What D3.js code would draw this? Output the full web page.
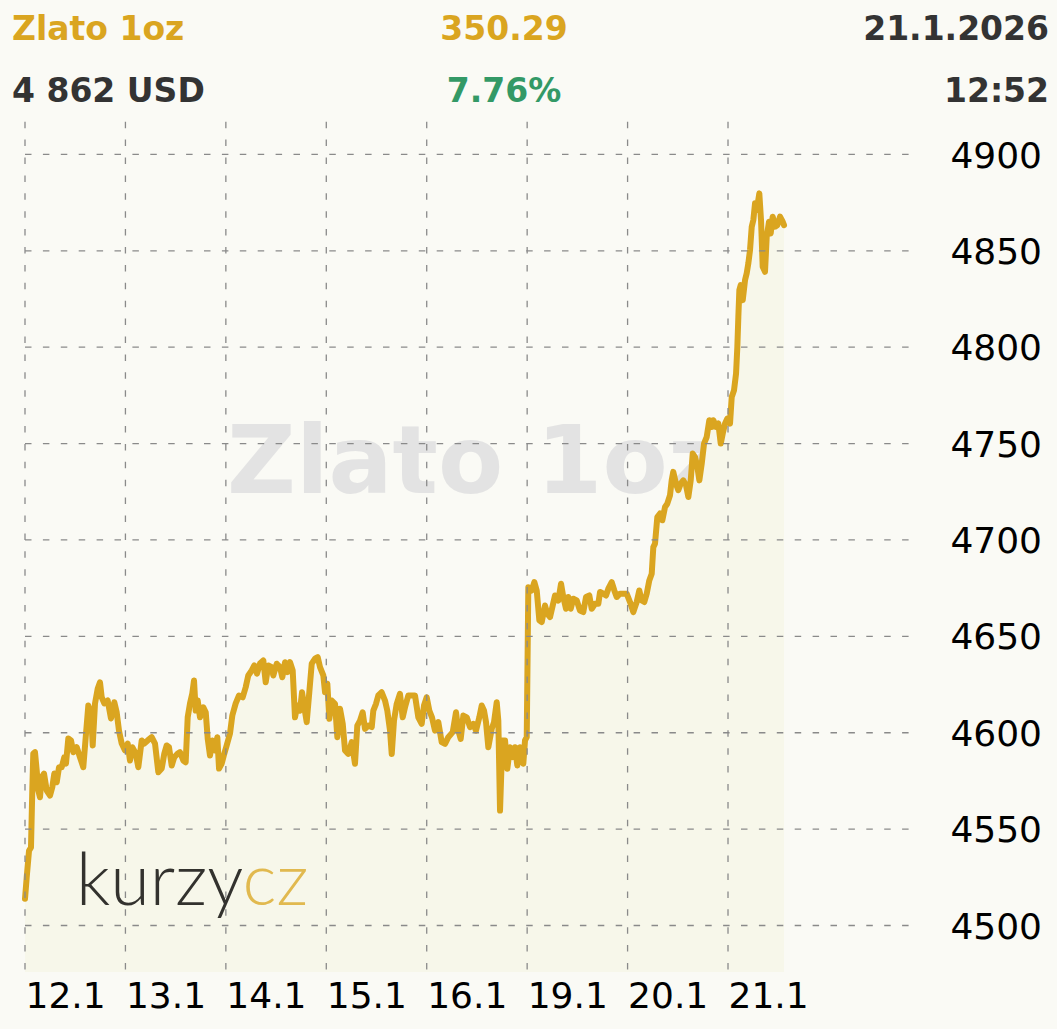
<!DOCTYPE html>
<html>
<head>
<meta charset="utf-8">
<script src="https://cdn.jsdelivr.net/npm/d3@7/dist/d3.min.js"></script>
<style>
  html, body { margin: 0; padding: 0; background: #fafaf5; }
  svg { display: block; }
</style>
</head>
<body>
<script>
// ---------------- DATA ----------------
const title = "Zlato 1oz";
const changeAbs = "350.29";
const changePct = "7.76%";
const lastPrice = "4 862 USD";
const dateLabel = "21.1.2026";
const timeLabel = "12:52";

// trading days shown on the x axis (weekend removed)
const dayLabels = ["12.1", "13.1", "14.1", "15.1", "16.1", "19.1", "20.1", "21.1"];
const yTicks = [4500, 4550, 4600, 4650, 4700, 4750, 4800, 4850, 4900];

// hours since 12.1 00:00 on the trading-day axis (each labelled day = 24 h)
const hours = [
  0,0.41,0.96,1.43,1.74,1.98,2.39,2.80,3.18,3.58,
  3.99,4.54,5.19,5.98,6.52,7.00,7.58,8.13,8.77,9.39,
  9.80,10.35,10.99,11.54,12.36,13.14,13.93,14.51,15.13,15.77,
  16.18,16.73,17.37,17.92,18.33,18.95,19.76,20.55,21.34,21.91,
  22.46,23.11,23.90,24.54,25.09,25.64,26.46,27.08,27.89,28.51,
  29.32,30.28,31.07,31.86,32.67,33.29,33.86,34.41,35.06,35.68,
  36.49,37.04,37.83,38.40,38.88,39.43,39.98,40.39,40.79,41.27,
  41.82,42.61,43.19,43.66,44.21,44.76,45.41,45.96,46.37,47.01,
  47.63,48.20,48.99,49.54,50.35,51.14,52.03,52.74,53.36,54.18,
  54.80,55.44,56.16,56.95,57.52,58.14,58.96,
  59.34,60.15,60.94,61.49,62.14,62.69,63.33,63.97,64.52,65.07,
  65.72,66.20,66.75,67.32,67.94,68.52,69.31,69.95,70.50,71.29,
  71.70,72.25,72.73,73.30,74.09,74.64,75.28,75.93,76.48,77.26,
  78.08,78.86,79.41,80.06,80.70,81.25,82.04,82.86,83.24,83.88,
  84.43,85.24,86.03,86.58,87.23,87.64,88.18,88.83,89.61,90.26,
  90.81,91.60,92.41,93.20,93.99,94.80,95.35,96.00,96.62,97.26,
  97.98,98.77,99.58,100.37,101.16,102.21,103.00,103.55,104.12,104.75,
  105.56,106.35,107.14,107.78,108.57,109.14,109.69,110.17,110.72,111.53,
  112.08,112.73,113.11,113.52,114.07,114.72,115.26,115.91,116.55,117.10,
  117.65,118.29,119.08,119.49,119.90,
  120.28,121.09,121.72,122.29,122.91,123.48,124.27,124.82,125.47,126.11,
  126.66,127.45,128.10,128.64,129.29,129.84,130.41,131.03,131.85,132.63,
  133.42,134.07,134.86,135.43,136.22,137.01,137.42,138.20,138.85,139.40,
  140.21,140.83,141.40,142.19,142.98,143.79,144.58,145.37,146.18,146.80,
  147.37,148.00,148.57,149.19,149.77,150.15,150.56,151.11,151.75,152.30,
  152.95,153.49,154.14,154.54,154.92,155.57,156.12,156.70,157.32,157.97,
  158.52,159.09,159.57,160.12,160.67,161.15,161.72,162.27,162.91,163.53,
  164.11,164.49,165.14,165.69,166.26,166.74,167.29,167.84,168.48,168.89,
  169.44,169.92,170.23,170.47,170.71,171.04,171.52,172.07,172.47,172.86,
  173.26,173.67,174.05,174.46,174.86,175.48,175.89,176.29,176.84,177.25,
  177.80,178.20,178.68,179.23,179.78,180.43,181.07,181.38
];

// gold price in USD per troy ounce
const prices = [
  4513.9,4525.0,4538.8,4540.5,4570.0,4589.2,4589.9,4580.4,4570.0,4566.5,
  4576.9,4578.8,4570.0,4567.4,4571.7,4578.8,4574.3,4582.1,4582.1,4587.3,
  4584.0,4597.0,4596.0,4589.9,4592.5,4587.3,4582.1,4597.7,4614.1,4610.6,
  4593.4,4615.2,4622.8,4626.2,4618.4,4615.2,4616.7,4607.4,4615.8,4610.6,
  4601.1,4594.4,4590.8,4594.4,4585.6,4592.5,4589.2,4582.1,4596.0,4594.4,
  4596.0,4597.7,4594.4,4579.5,4581.4,4589.2,4593.4,4592.5,4583.0,4587.3,
  4589.2,4589.9,4585.6,4584.7,4608.0,4615.2,4620.4,4627.1,4611.5,4616.7,
  4608.0,4613.2,4610.6,4597.0,4588.2,4596.0,4590.8,4597.7,4581.4,4584.0,
  4589.2,4593.4,4599.6,4608.9,4615.2,4619.3,4618.4,4623.6,4629.7,4632.3,
  4634.9,4630.7,4635.9,4637.5,4626.2,4634.9,4634.0,
  4629.7,4635.8,4634.0,4628.8,4636.6,4631.4,4636.6,4632.3,4608.0,4614.1,
  4611.5,4621.0,4613.2,4605.5,4621.0,4635.8,4638.4,4639.2,4634.0,4629.7,
  4621.0,4625.4,4607.2,4616.7,4615.0,4597.7,4612.4,4604.6,4590.8,4589.0,
  4595.1,4583.9,4603.7,4606.3,4610.6,4602.0,4603.7,4602.9,4611.5,4615.0,
  4619.3,4621.0,4616.7,4611.5,4601.1,4589.0,4606.3,4615.0,4620.2,4608.0,
  4613.2,4619.3,4619.3,4619.3,4608.0,4604.6,4614.1,4618.4,4611.5,4608.0,
  4601.1,4605.5,4595.1,4594.2,4597.7,4600.3,4610.6,4601.1,4596.8,4608.9,
  4608.0,4602.9,4604.6,4601.1,4608.0,4614.1,4611.5,4605.5,4592.5,4602.0,
  4605.5,4615.8,4606.3,4559.6,4596.0,4596.0,4581.3,4592.5,4587.3,4592.5,
  4583.0,4592.5,4583.9,4596.0,4597.7,
  4675.5,4673.8,4678.1,4673.8,4658.3,4657.4,4666.0,4661.7,4660.0,4666.0,
  4671.2,4668.6,4677.3,4670.4,4664.3,4670.4,4664.3,4669.5,4668.6,4663.4,
  4662.6,4670.4,4671.2,4664.3,4666.9,4666.9,4673.0,4672.1,4671.2,4674.7,
  4678.1,4673.8,4670.4,4672.1,4672.1,4672.1,4667.8,4662.6,4667.8,4673.8,
  4668.6,4667.8,4672.1,4679.0,4682.5,4696.3,4698.1,4711.9,4713.7,4710.2,
  4717.1,4718.8,4723.2,4730.9,4735.3,4729.2,4725.8,4729.2,4730.9,4728.3,
  4722.3,4730.9,4744.8,4743.0,4737.9,4730.9,4739.6,4750.0,4753.4,4762.1,
  4758.6,4762.1,4758.6,4760.4,4750.0,4755.2,4760.4,4763.0,4760.4,4774.2,
  4777.7,4786.3,4800.2,4815.7,4829.6,4832.2,4824.4,4834.8,4838.3,4843.5,
  4850.4,4862.5,4865.9,4874.6,4871.1,4879.8,4865.9,4841.7,4839.1,4857.3,
  4865.1,4859.0,4867.7,4862.5,4863.3,4867.7,4865.1,4863.3
];

// ---------------- CHART ----------------
const W = 1057, H = 1029;
const plotLeft = 25, plotRight = 913, plotTop = 121.7, plotBottom = 972;
const dayWidth = 100.43;

const gold = "#DAA520", dark = "#333333", green = "#339966";
const font = "'DejaVu Sans', Verdana, sans-serif";

const data = hours.map((h, i) => ({ h, p: prices[i] }));

const x = d3.scaleLinear().domain([0, 24 * dayLabels.length])
  .range([plotLeft, plotLeft + dayWidth * dayLabels.length]);
const y = d3.scaleLinear().domain([4500, 4900]).range([925.5, 154.4]);

const svg = d3.select("body").append("svg")
  .attr("width", W).attr("height", H);

svg.append("rect").attr("width", W).attr("height", H).attr("fill", "#fafaf5");

// watermark
svg.append("text")
  .attr("x", 227).attr("y", 493)
  .attr("font-family", font).attr("font-weight", "bold")
  .attr("font-size", 95).attr("fill", "#e3e3e3")
  .text(title);

// area under the line
const area = d3.area().x(d => x(d.h)).y0(plotBottom).y1(d => y(d.p));
svg.append("path").datum(data).attr("d", area).attr("fill", "#f7f7ea");

// logo
const logo = svg.append("text")
  .attr("x", 76).attr("y", 905)
  .attr("font-family", "Lato, 'Open Sans', sans-serif")
  .attr("font-weight", 300).attr("font-size", 72)
  .attr("fill", "#33322e");
logo.append("tspan").text("kurzy");
logo.append("tspan").attr("fill", "#e1b94f").text("cz");

// line
const line = d3.line().x(d => x(d.h)).y(d => y(d.p));
svg.append("path").datum(data).attr("d", line)
  .attr("fill", "none").attr("stroke", gold).attr("stroke-width", 6)
  .attr("stroke-linejoin", "round").attr("stroke-linecap", "round");

// gridlines (drawn over the line, as in the original)
const grid = svg.append("g").attr("stroke", "#8a8a8a").attr("stroke-width", 1.3)
  .attr("stroke-dasharray", "6.5,11.4").attr("fill", "none");
grid.selectAll("line.h").data(yTicks).join("line").attr("class", "h")
  .attr("x1", plotLeft).attr("x2", plotRight)
  .attr("y1", d => y(d)).attr("y2", d => y(d));
grid.selectAll("line.v").data(dayLabels).join("line").attr("class", "v")
  .attr("x1", (d, i) => x(i * 24)).attr("x2", (d, i) => x(i * 24))
  .attr("y1", plotTop).attr("y2", plotBottom);

// y axis labels
const yAxis = d3.axisLeft(y).tickValues(yTicks).tickSize(0).tickPadding(0)
  .tickFormat(d3.format("d"));
const gy = svg.append("g").attr("transform", "translate(1042,0)").call(yAxis);
gy.select(".domain").remove();
gy.selectAll("text").attr("font-family", font).attr("font-size", 36)
  .attr("fill", "#000").attr("dy", "0.35em");

// x axis labels
const xAxis = d3.axisBottom(x).tickValues(dayLabels.map((d, i) => i * 24))
  .tickSize(0).tickPadding(0).tickFormat((d, i) => dayLabels[i]);
const gx = svg.append("g").attr("transform", "translate(0,1008)").call(xAxis);
gx.select(".domain").remove();
gx.selectAll("text").attr("font-family", font).attr("font-size", 36)
  .attr("fill", "#000").attr("text-anchor", "start").attr("dy", 0).attr("y", 0);

// header
const header = svg.append("g").attr("font-family", font).attr("font-weight", "bold")
  .attr("font-size", 33);
header.append("text").attr("x", 12).attr("y", 40).attr("fill", gold).text(title);
header.append("text").attr("x", 504).attr("y", 40).attr("fill", gold)
  .attr("text-anchor", "middle").text(changeAbs);
header.append("text").attr("x", 1049).attr("y", 40).attr("fill", dark)
  .attr("text-anchor", "end").text(dateLabel);
header.append("text").attr("x", 12).attr("y", 102).attr("fill", dark).text(lastPrice);
header.append("text").attr("x", 504).attr("y", 102).attr("fill", green)
  .attr("text-anchor", "middle").text(changePct);
header.append("text").attr("x", 1049).attr("y", 102).attr("fill", dark)
  .attr("text-anchor", "end").text(timeLabel);
</script>
</body>
</html>
